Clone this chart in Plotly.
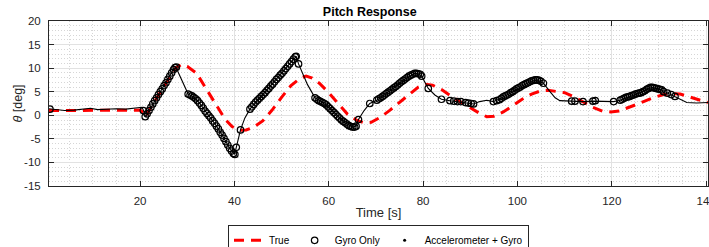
import plotly.graph_objects as go

# ---- True pitch (red dashed) ----
t_true = [0.7, 5, 10, 15, 20, 20.8, 21.3, 22, 24, 26, 27.5, 28.8, 30, 32, 34, 36, 38, 39.5, 41,
          42.5, 44, 46, 48, 50, 52, 54, 55.2, 56.5, 58, 60, 62, 64, 66, 67.5, 69, 71, 73, 75, 77,
          79, 80.5, 82, 84, 86, 88, 90, 92, 93.5, 95, 97, 99, 101, 103, 105, 106.5, 108, 110, 112,
          114, 116, 118, 119.8, 121.5, 123, 125, 127, 129, 131, 132.8, 134.5, 136.5, 138.5, 140.4]
true_deg = [1.0, 1.0, 1.0, 1.0, 1.1, 0.5, -0.3, 1.2, 4.5, 7.8, 10.0, 10.8, 10.4, 8.9, 5.6, 2.2,
            -0.8, -2.4, -3.2, -3.1, -2.6, -1.2, 1.1, 3.8, 6.3, 7.9, 8.3, 7.9, 6.8, 4.8, 2.4, 0.2,
            -1.1, -1.6, -1.5, -0.4, 1.1, 2.7, 4.5, 6.0, 6.6, 6.4, 5.4, 4.0, 2.8, 1.6, 0.4, -0.3,
            -0.2, 0.7, 2.1, 3.4, 4.5, 5.2, 5.3, 5.1, 4.8, 3.9, 2.8, 1.7, 0.9, 0.7, 0.9, 1.4, 2.2,
            3.0, 3.8, 4.4, 4.6, 4.5, 3.9, 3.2, 2.7]

# ---- Gyro only (open circles) ----
t_gyro = [0.9,
          20.7, 21.1, 21.5, 21.9, 22.3, 22.7, 23.1, 23.5, 23.9, 24.3, 24.7, 25.1, 25.5, 25.9, 26.3,
          26.7, 27.1, 27.4, 27.7,
          30.2, 30.6, 31.0, 31.4, 31.8, 32.2, 32.6, 33.0, 33.4, 33.8, 34.2, 34.6, 35.0, 35.4, 35.8,
          36.2, 36.6, 37.0, 37.4, 37.8, 38.2, 38.6, 39.0, 39.4, 39.8, 40.1,
          40.4, 41.3,
          43.3, 43.7, 44.1, 44.5, 44.9, 45.3, 45.7, 46.1, 46.5, 46.9, 47.3, 47.7, 48.1, 48.5, 48.9,
          49.3, 49.7, 50.1, 50.5, 50.9, 51.3, 51.7, 52.1, 52.5, 52.9, 53.1, 53.6,
          57.1, 57.5, 57.9, 58.3, 58.7, 59.1, 59.5, 59.9, 60.3, 60.7, 61.1, 61.5, 61.9, 62.3, 62.7,
          63.1, 63.5, 63.9, 64.3, 64.7, 65.1, 65.5, 65.8, 66.3,
          68.7, 70.2, 70.6, 71.0, 71.4, 71.8, 72.2, 72.6, 73.0, 73.4, 73.8, 74.2, 74.6, 75.0, 75.4,
          75.8, 76.2, 76.6, 77.0, 77.4, 77.8, 78.2, 78.6, 79.0, 79.4, 79.7,
          81.1, 83.9, 85.7, 86.5, 87.3, 88.0, 89.0, 89.6, 90.2, 90.7,
          94.9, 95.6, 96.2, 96.6, 97.0, 97.4, 97.8, 98.2, 98.6, 99.0, 99.4, 99.8, 100.2, 100.6,
          101.0, 101.4, 101.8, 102.2, 102.6, 103.0, 103.4, 103.8, 104.2, 104.6, 105.0, 105.5,
          111.5, 112.2, 113.9, 116.0, 116.5, 120.4,
          121.8, 122.2, 122.6, 123.0, 123.4, 123.8, 124.2, 124.6, 125.0, 125.4, 125.8, 126.2, 126.6,
          127.0, 127.4, 127.8, 128.2, 128.6, 129.0, 129.4, 129.8, 130.2, 130.6, 131.0, 131.8,
          132.6, 133.4]
gyro_deg = [1.3,
            1.0, -0.3, 0.3, 1.0, 1.7, 2.4, 3.1, 3.7, 4.4, 5.0, 5.6, 6.3, 6.9, 7.6, 8.3,
            9.0, 9.7, 10.1, 10.2,
            4.5, 4.3, 4.1, 3.8, 3.5, 3.1, 2.6, 2.1, 1.5, 0.9, 0.4, -0.1, -0.6, -1.2, -1.7,
            -2.3, -2.9, -3.6, -4.2, -4.9, -5.6, -6.3, -7.0, -7.6, -8.1, -8.3,
            -6.8, -3.1,
            1.3, 1.8, 2.3, 2.8, 3.2, 3.6, 4.0, 4.4, 4.8, 5.3, 5.7, 6.2, 6.6, 7.1, 7.6,
            8.0, 8.5, 8.9, 9.4, 9.9, 10.4, 10.9, 11.4, 11.9, 12.4, 12.5, 10.9,
            3.7, 3.4, 3.1, 2.9, 2.7, 2.5, 2.2, 1.8, 1.4, 1.0, 0.6, 0.2, -0.2, -0.6, -1.0,
            -1.3, -1.6, -1.9, -2.2, -2.4, -2.5, -2.5, -2.3, -0.9,
            2.5, 3.2, 3.5, 3.7, 4.0, 4.3, 4.6, 4.9, 5.2, 5.5, 5.8, 6.1, 6.4, 6.8, 7.1,
            7.4, 7.7, 8.0, 8.3, 8.5, 8.7, 8.9, 8.9, 8.8, 8.7, 8.3,
            5.7, 3.4, 3.1, 3.0, 2.9, 2.9, 2.7, 2.6, 2.5, 2.4,
            2.9, 3.1, 3.3, 3.6, 3.9, 4.1, 4.3, 4.5, 4.8, 5.0, 5.3, 5.6, 5.8, 6.0,
            6.3, 6.5, 6.7, 6.9, 7.1, 7.3, 7.4, 7.5, 7.5, 7.4, 7.2, 6.8,
            3.0, 3.0, 2.9, 3.0, 3.1, 2.9,
            3.2, 3.4, 3.6, 3.8, 3.9, 4.0, 4.2, 4.3, 4.5, 4.6, 4.7, 4.8, 5.0,
            5.2, 5.5, 5.7, 5.9, 5.9, 5.8, 5.7, 5.6, 5.5, 5.4, 5.0, 4.7,
            4.4, 4.0]

# ---- Accelerometer + Gyro (black dots) ----
t_fused = [0.7, 2, 4, 6, 8, 9.5, 11, 13, 15, 17, 19, 20.4, 20.8, 21.2, 21.6, 23, 25, 27, 27.6,
           28.5, 29.5, 30.2, 31.4, 32.6, 34.2, 35.8, 37.4, 39.0, 40.1, 40.4, 41.3, 42.2, 43.3,
           45.3, 47.3, 49.3, 51.3, 53.1, 53.6, 54.5, 55.5, 57.1, 58.7, 60.3, 61.9, 63.5, 65.1,
           65.8, 66.3, 67.5, 68.7, 70.2, 72.2, 74.2, 76.2, 78.2, 79.0, 79.7, 81.1, 82.5, 83.9,
           85.7, 87.3, 89.0, 90.7, 92.0, 93.5, 94.9, 96.6, 98.6, 100.6, 102.6, 104.2, 105.5,
           106.9, 108.0, 109.0, 111.5, 113.9, 116.0, 118.0, 120.4, 121.8, 123.8, 125.8, 127.8,
           128.6, 130.2, 131.8, 133.4, 134.5, 135.9, 138.0, 140.4]
fused_deg = [1.4, 1.2, 1.0, 1.1, 1.3, 1.5, 1.2, 1.3, 1.4, 1.3, 1.5, 1.7, 0.9, -0.4, 0.4, 2.8,
             6.2, 9.6, 10.2, 8.2, 6.0, 4.5, 3.8, 2.6, 0.4, -1.7, -4.2, -7.0, -8.3, -6.8, -3.1,
             -0.6, 1.3, 3.6, 5.7, 8.0, 10.4, 12.5, 10.9, 8.8, 6.5, 3.7, 2.7, 1.4, -0.2, -1.6,
             -2.5, -2.3, -0.9, 1.0, 2.5, 3.2, 4.6, 6.1, 7.7, 8.9, 8.8, 8.3, 5.7, 4.3, 3.4, 3.1,
             2.9, 2.7, 2.4, 2.9, 3.2, 2.9, 3.6, 4.8, 6.0, 7.1, 7.5, 6.8, 5.0, 3.7, 3.1, 3.0,
             2.9, 3.0, 2.9, 2.9, 3.2, 4.0, 4.7, 5.7, 5.9, 5.5, 4.7, 4.0, 3.5, 2.7, 2.6, 2.7]

x_ticks = [20, 40, 60, 80, 100, 120, 140]
y_ticks = [-15, -10, -5, 0, 5, 10, 15, 20]

AX = "#262626"
FONT = "Liberation Sans, Arial, Helvetica, sans-serif"

fig = go.Figure()
fig.add_trace(go.Scatter(x=t_true, y=true_deg, mode="lines", name="True",
                         line=dict(color="#ff0000", width=3, dash="10px,7px")))
fig.add_trace(go.Scatter(x=t_gyro, y=gyro_deg, mode="markers", name="Gyro Only",
                         marker=dict(symbol="circle-open", size=6.5, color="black",
                                     line=dict(width=1.2, color="black"))))
fig.add_trace(go.Scatter(x=t_fused, y=fused_deg, mode="lines", showlegend=False,
                         line=dict(color="black", width=1.1)))
fig.add_trace(go.Scatter(x=[None], y=[None], mode="markers", name="Accelerometer + Gyro",
                         marker=dict(symbol="circle", size=3, color="black")))

fig.update_layout(
    width=709, height=247,
    margin=dict(l=49, r=1, t=21, b=61, autoexpand=False),
    paper_bgcolor="white", plot_bgcolor="white",
    font=dict(family=FONT, color=AX, size=11.5),
    title=dict(text="<b>Pitch Response</b>", x=0.5215, xref="container", xanchor="center",
               y=1 - 12 / 247, yref="container", yanchor="middle",
               font=dict(size=12.5, color="black", family=FONT)),
    legend=dict(orientation="h", x=0.5, xanchor="center", y=-0.235, yanchor="top",
                bgcolor="white", bordercolor=AX, borderwidth=1,
                font=dict(size=10, color="black", family=FONT),
                itemwidth=30, tracegroupgap=0),
    showlegend=True,
    annotations=[dict(text="<i>θ</i> [deg]", xref="paper", yref="paper",
                      x=-31 / 658.7, y=0.5, xanchor="center", yanchor="middle",
                      textangle=-90, showarrow=False,
                      font=dict(size=12.5, color=AX, family=FONT))],
)
fig.update_xaxes(range=[0.7, 140.4], tickvals=x_ticks, ticktext=[str(v) for v in x_ticks],
                 showline=True, linecolor=AX, linewidth=1, mirror="ticks",
                 ticks="inside", ticklen=5, tickcolor=AX, ticklabeloverflow="allow",
                 showgrid=True, gridcolor="#e2e2e2", gridwidth=1, zeroline=False,
                 minor=dict(dtick=5, tick0=0, showgrid=True, gridcolor="#d6d6d6",
                            griddash="1px,2px", gridwidth=1),
                 title=dict(text="Time [s]", font=dict(size=13, color=AX), standoff=2),
                 ticklabelstandoff=4)
fig.update_yaxes(range=[-15, 20], tickvals=y_ticks, ticktext=[str(v) for v in y_ticks],
                 showline=True, linecolor=AX, linewidth=1, mirror="ticks",
                 ticks="inside", ticklen=5, tickcolor=AX,
                 showgrid=True, gridcolor="#e2e2e2", gridwidth=1, zeroline=False,
                 minor=dict(dtick=1, tick0=0, showgrid=True, gridcolor="#d6d6d6",
                            griddash="1px,2px", gridwidth=1),
                 ticklabelstandoff=5)

fig.write_html("out.html", config={"displayModeBar": False},
               post_script="document.body.style.margin='0px';")
